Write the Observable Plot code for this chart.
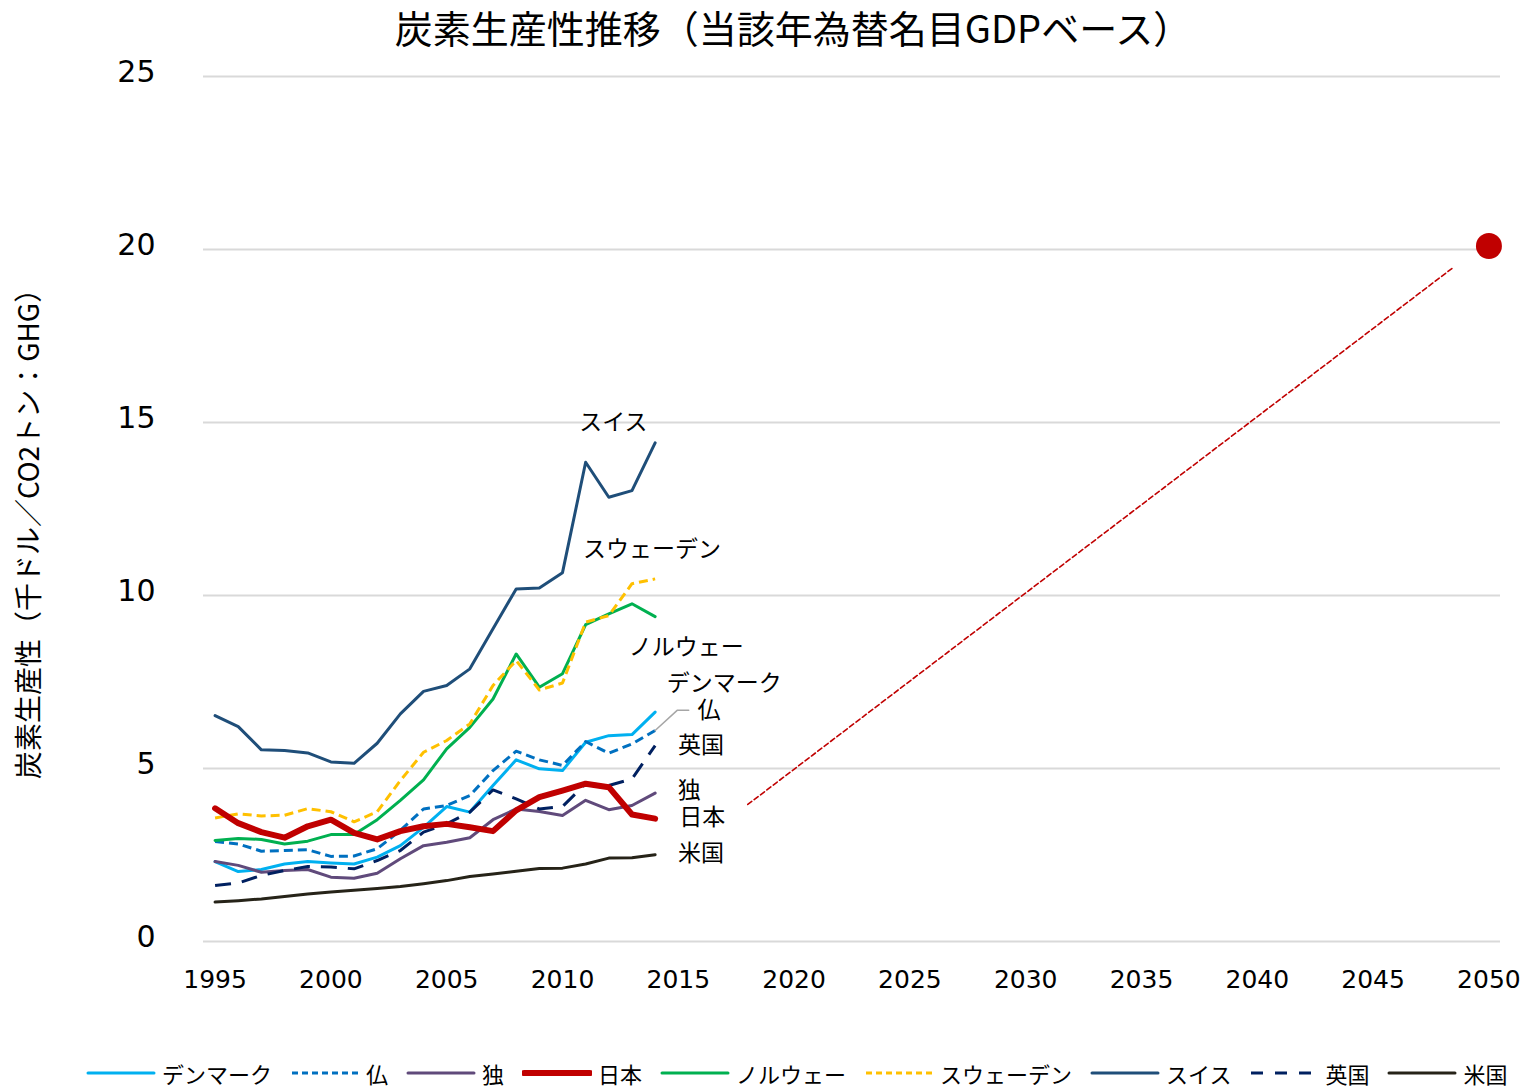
<!DOCTYPE html>
<html>
<head>
<meta charset="utf-8">
<script src="https://cdn.jsdelivr.net/npm/d3@7"></script>
<script src="https://cdn.jsdelivr.net/npm/@observablehq/plot@0.6"></script>
<style>
  html, body { margin: 0; padding: 0; background: #fff; }
  body { font-family: "DejaVu Sans", "Noto Sans CJK JP", sans-serif; color: #000; }
  #wrap { position: relative; width: 1526px; height: 1091px; overflow: hidden; }
  #title { position: absolute; left: 0; top: 0; width: 1526px; box-sizing: border-box; padding-left: 60px;
           text-align: center; font-size: 38px; line-height: 54px; font-family: "Noto Sans CJK JP", "DejaVu Sans", sans-serif; }
  #chart { position: absolute; left: 0; top: 52px; }
  #legend { position: absolute; left: 86px; top: 1061px; height: 24px; display: flex; align-items: center;
            font-size: 22px; line-height: 1; font-family: "Noto Sans CJK JP", "DejaVu Sans", sans-serif; white-space: nowrap; }
  .item { display: flex; align-items: center; margin-right: 18px; }
  .item svg { margin-right: 6px; }
  .item span { line-height: 1; }
</style>
</head>
<body>
<div id="wrap">
  <div id="title"></div>
  <div id="chart"></div>
  <div id="legend"></div>
</div>
<script>
// ---- data ----
const titleText = "炭素生産性推移（当該年為替名目GDPベース）";
const yLabel = "炭素生産性（千ドル／CO2トン：GHG）";
const years = [1995,1996,1997,1998,1999,2000,2001,2002,2003,2004,2005,2006,2007,2008,2009,2010,2011,2012,2013,2014];
const xTicks = [1995,2000,2005,2010,2015,2020,2025,2030,2035,2040,2045,2050];
const yTicks = [0,5,10,15,20,25];

const seriesNames = ["デンマーク","仏","独","日本","ノルウェー","スウェーデン","スイス","英国","米国"];
const denmark = [2.31,2.02,2.08,2.24,2.31,2.27,2.24,2.44,2.77,3.30,3.90,3.74,4.51,5.25,4.99,4.94,5.76,5.95,5.98,6.63];
const france  = [2.89,2.82,2.61,2.63,2.65,2.46,2.47,2.68,3.21,3.83,3.93,4.22,4.94,5.50,5.25,5.09,5.78,5.44,5.71,6.10];
const germany = [2.31,2.20,2.00,2.05,2.08,1.86,1.83,1.97,2.39,2.77,2.87,3.00,3.52,3.83,3.76,3.64,4.08,3.81,3.93,4.29];
const japan   = [3.85,3.42,3.16,3.00,3.33,3.52,3.14,2.95,3.19,3.33,3.40,3.30,3.19,3.79,4.17,4.36,4.56,4.46,3.67,3.55];
const norway  = [2.92,2.98,2.95,2.82,2.90,3.09,3.09,3.52,4.08,4.67,5.57,6.19,7.01,8.31,7.35,7.74,9.16,9.47,9.76,9.39];
const sweden  = [3.57,3.69,3.63,3.65,3.84,3.75,3.46,3.75,4.65,5.47,5.81,6.29,7.40,8.12,7.27,7.47,9.23,9.42,10.34,10.48];
const swiss   = [6.53,6.21,5.54,5.52,5.45,5.19,5.15,5.73,6.58,7.23,7.40,7.88,9.04,10.19,10.22,10.66,13.85,12.84,13.03,14.41];
const uk      = [1.62,1.69,1.91,2.05,2.17,2.15,2.10,2.34,2.63,3.16,3.40,3.74,4.38,4.12,3.83,3.90,4.56,4.51,4.70,5.66];
const us      = [1.14,1.18,1.23,1.30,1.37,1.43,1.48,1.53,1.59,1.67,1.76,1.88,1.95,2.03,2.11,2.12,2.24,2.41,2.42,2.51];

// Japan target path and goal
const targetYears  = [2018, 2048.4];
const targetValues = [3.96, 19.45];
const goalYear = [2050];
const goalValue = [20.1];

// in-chart labels (anchor in data units)
const labelTexts  = ["スイス","スウェーデン","ノルウェー","デンマーク","仏","英国","独","日本","米国"];
const labelYears  = [2012.2, 2013.87, 2015.34, 2016.98, 2016.33, 2015.98, 2015.47, 2016.03, 2015.98];
const labelValues = [15.0, 11.33, 8.50, 7.46, 6.66, 5.66, 4.36, 3.57, 2.54];
// leader line for 仏
const leaderYears  = [2014, 2014.95, 2015.45];
const leaderValues = [6.10, 6.68, 6.68];

// ---- styles ----
const styles = {
  "デンマーク":   {stroke: "#00B0F0", width: 3, dash: null},
  "仏":          {stroke: "#0070C0", width: 3, dash: "9,5"},
  "独":          {stroke: "#604A7B", width: 3, dash: null},
  "日本":        {stroke: "#C00000", width: 6, dash: null},
  "ノルウェー":   {stroke: "#00B050", width: 3, dash: null},
  "スウェーデン": {stroke: "#FFC000", width: 3, dash: "9,5"},
  "スイス":      {stroke: "#1F4E79", width: 3, dash: null},
  "英国":        {stroke: "#002060", width: 3, dash: "16,11"},
  "米国":        {stroke: "#262318", width: 3, dash: null}
};
const seriesValues = [denmark, france, germany, japan, norway, sweden, swiss, uk, us];

const rows = (arr) => years.map((yr, i) => ({year: yr, v: arr[i]}));
const drawOrder = [0,1,2,4,5,6,7,8,3];
const lineMarks = drawOrder.map(i => {
  const s = styles[seriesNames[i]];
  return Plot.line(rows(seriesValues[i]), {
    x: "year", y: "v", stroke: s.stroke, strokeWidth: s.width,
    strokeDasharray: s.dash || undefined, strokeLinejoin: "round", strokeLinecap: s.dash ? "butt" : "round"
  });
});

const targetRows = targetYears.map((yr, i) => ({year: yr, v: targetValues[i]}));
const goalRows = goalYear.map((yr, i) => ({year: yr, v: goalValue[i]}));
const labelRows = labelTexts.map((t, i) => ({t, year: labelYears[i], v: labelValues[i]}));
const leaderRows = leaderYears.map((yr, i) => ({year: yr, v: leaderValues[i]}));

const chart = Plot.plot({
  width: 1526,
  height: 1000,
  marginLeft: 203,
  marginRight: 26,
  marginTop: 24,
  marginBottom: 111,
  x: {domain: [1994.5, 2050.5]},
  y: {domain: [0, 25]},
  style: {fontFamily: "'DejaVu Sans', 'Noto Sans CJK JP', sans-serif", background: "white", color: "#000", overflow: "visible"},
  marks: [
    Plot.gridY(yTicks, {stroke: "#D9D9D9", strokeOpacity: 1, strokeWidth: 2}),
    Plot.axisY(yTicks, {tickSize: 0, tickPadding: 48, fontSize: 30, dy: -4, label: null, tickFormat: d => String(d)}),
    Plot.axisX(xTicks, {tickSize: 0, tickPadding: 29, fontSize: 25, label: null, tickFormat: d => String(d)}),
    Plot.text([yLabel], {frameAnchor: "left", dx: -173, dy: 18, rotate: -90, fontSize: 28, textAnchor: "middle",
      fontFamily: "'Noto Sans CJK JP', 'DejaVu Sans', sans-serif", fill: "#000"}),
    ...lineMarks,
    Plot.line(leaderRows, {x: "year", y: "v", stroke: "#A6A6A6", strokeWidth: 1.5}),
    Plot.line(targetRows, {x: "year", y: "v", stroke: "#C00000", strokeWidth: 1.6, strokeDasharray: "5,3"}),
    Plot.dot(goalRows, {x: "year", y: "v", r: 13, fill: "#C00000", stroke: "none"}),
    Plot.text(labelRows, {x: "year", y: "v", text: "t", fontSize: 23, textAnchor: "middle", lineAnchor: "middle",
      fill: "#000", fontFamily: "'Noto Sans CJK JP', 'DejaVu Sans', sans-serif"})
  ]
});
document.getElementById("chart").appendChild(chart);
document.getElementById("title").textContent = titleText;

// ---- legend ----
const legend = document.getElementById("legend");
seriesNames.forEach(name => {
  const s = styles[name];
  const item = document.createElement("div");
  item.className = "item";
  const ns = "http://www.w3.org/2000/svg";
  const svg = document.createElementNS(ns, "svg");
  svg.setAttribute("width", 70); svg.setAttribute("height", 14);
  const ln = document.createElementNS(ns, "line");
  ln.setAttribute("x1", 2); ln.setAttribute("x2", 68);
  ln.setAttribute("y1", 7); ln.setAttribute("y2", 7);
  ln.setAttribute("stroke", s.stroke);
  ln.setAttribute("stroke-width", s.width);
  ln.setAttribute("stroke-linecap", "round");
  if (s.dash) { ln.setAttribute("stroke-dasharray", name === "英国" ? "12,12" : "6,4"); ln.setAttribute("stroke-linecap", "butt"); }
  svg.appendChild(ln);
  const tx = document.createElement("span");
  tx.textContent = name;
  item.appendChild(svg); item.appendChild(tx);
  legend.appendChild(item);
});
</script>
</body>
</html>
